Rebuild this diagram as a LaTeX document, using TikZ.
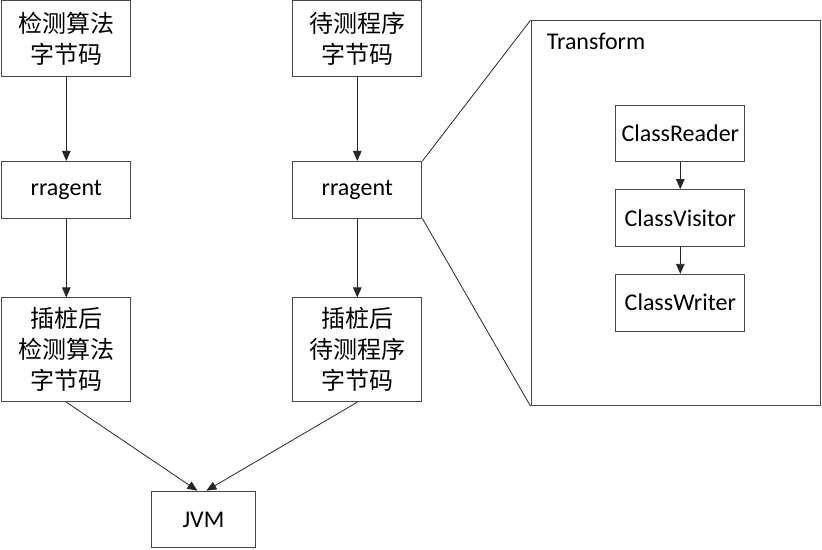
\documentclass[tikz,border=0pt]{standalone}
\usepackage{fontspec}
\setmainfont{Carlito}
\newfontfamily\cjk{Noto Sans CJK SC}
\usetikzlibrary{arrows.meta,calc}
\begin{document}
\begin{tikzpicture}[x=1pt,y=-1pt,
  every node/.style={font=\fontsize{24}{31}\selectfont, inner sep=0pt, align=center},
  box/.style={draw=black!72, line width=1pt, fill=white, minimum width=129.3pt},
  smallbox/.style={draw=black!72, line width=1pt, minimum width=129.3pt, minimum height=56.7pt},
  conn/.style={draw=black!85, line width=0.8pt},
  arr/.style={conn, -{Triangle[length=10pt,width=8.5pt]}}]
\useasboundingbox (0,0) rectangle (822,549);
% left column
\node[box, minimum height=75.7pt] (a1) at (66.3,38.8) {\cjk 检测算法\\\cjk 字节码};
\node[smallbox] (a2) at (66.3,189.8) {rragent};
\node[box, minimum height=103.7pt] (a3) at (66.3,349.8) {\cjk 插桩后\\\cjk 检测算法\\\cjk 字节码};
% middle column
\node[box, minimum height=75.7pt] (b1) at (357.3,38.8) {\cjk 待测程序\\\cjk 字节码};
\node[smallbox] (b2) at (357.3,189.8) {rragent};
\node[box, minimum height=103.7pt] (b3) at (357.3,349.8) {\cjk 插桩后\\\cjk 待测程序\\\cjk 字节码};
% JVM
\node[draw=black!72, line width=1pt, minimum width=103.3pt, minimum height=56.7pt] (jvm) at (203.4,519.5) {JVM};
% Transform
\node[draw=black!72, line width=1pt, minimum width=289.7pt, minimum height=385pt] (T) at (675.9,213.2) {};
\node[anchor=west] (tl) at (546.7,41) {Transform};
\node[smallbox] (c1) at (680.3,133.4) {ClassReader};
\node[smallbox] (c2) at (680.3,218) {ClassVisitor};
\node[smallbox] (c3) at (680.3,302.7) {ClassWriter};
% connectors
\draw[arr] (a1) -- (a2);
\draw[arr] (a2) -- (a3);
\draw[arr] (b1) -- (b2);
\draw[arr] (b2) -- (b3);
\draw[arr] (c1) -- (c2);
\draw[arr] (c2) -- (c3);
\coordinate (j1) at ($(jvm.north)+(-6,0)$);
\coordinate (j2) at ($(jvm.north)+(3,0)$);
\draw[arr] (a3.south) -- (j1);
\draw[arr] (b3.south) -- (j2);
\draw[conn] (b2.north east) -- (T.north west);
\draw[conn] (b2.south east) -- (T.south west);
\end{tikzpicture}
\end{document}
